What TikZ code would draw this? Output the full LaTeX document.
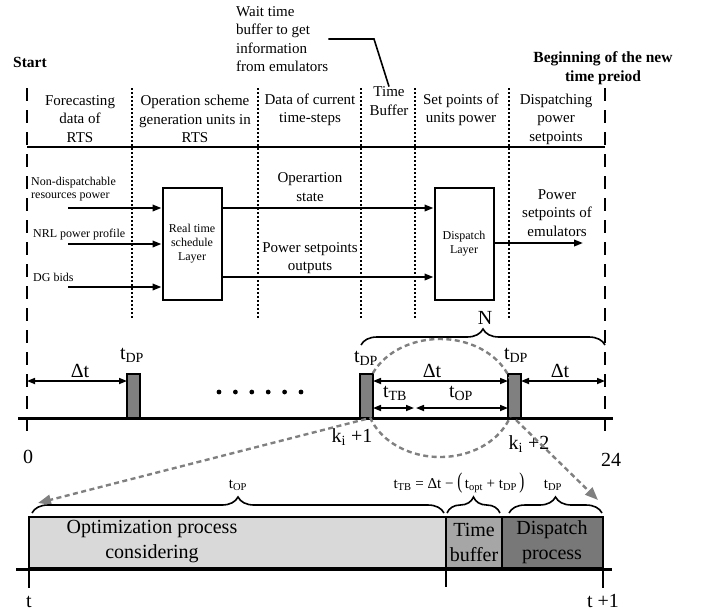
\documentclass[tikz,border=0pt]{standalone}
\usepackage{fontspec}
\setmainfont{Liberation Serif}
\usetikzlibrary{arrows.meta}
\usetikzlibrary{decorations.pathreplacing}
\usetikzlibrary{calc}

\definecolor{barfill}{RGB}{128,128,128}
\definecolor{optfill}{RGB}{217,217,217}
\definecolor{buffill}{RGB}{166,166,166}
\definecolor{dspfill}{RGB}{120,120,120}
\definecolor{guidegray}{RGB}{128,128,128}

\tikzset{
  hdr/.style={font=\fontsize{15}{18.5}\selectfont, align=center, inner sep=0pt},
  note/.style={font=\fontsize{12}{13.5}\selectfont, align=left, inner sep=0pt, anchor=west},
  boldtxt/.style={font=\fontsize{15.5}{19}\selectfont\bfseries, align=center, inner sep=0pt},
  bigtxt/.style={font=\fontsize{20}{25}\selectfont, align=center, inner sep=0pt},
  midtxt/.style={font=\fontsize{15}{18}\selectfont, inner sep=0pt, anchor=base},
  sepline/.style={line width=1.7pt, dash pattern=on 2pt off 2pt},
  edgeline/.style={line width=1.8pt, dash pattern=on 13pt off 9pt},
  flow/.style={line width=2pt, -{Triangle[length=9pt,width=6.5pt]}},
  layerbox/.style={draw, line width=2pt, minimum width=59pt, minimum height=112pt,
    font=\fontsize{12}{14}\selectfont, align=center},
  dpbar/.style={draw, line width=1.4pt, fill=barfill, minimum width=13pt,
    minimum height=44pt, inner sep=0pt, outer sep=0pt, anchor=south west},
  span/.style={line width=1.6pt, {Triangle[length=8pt,width=6pt]}-{Triangle[length=8pt,width=6pt]}},
  guide/.style={guidegray, line width=2.4pt, dash pattern=on 5pt off 3.5pt},
  brc/.style={decorate, decoration={brace, amplitude=16pt}, line width=1.6pt},
  phase/.style={draw, line width=1.8pt, inner sep=0pt, outer sep=0pt,
    minimum height=51pt, anchor=north west},
}

\begin{document}
\begin{tikzpicture}[x=1pt,y=-1pt]
\useasboundingbox (0,0) rectangle (708,614);

% titles
\node[boldtxt] (start) at (30,62) {Start};
\node[boldtxt] (newper) at (603,68) {Beginning of the new\\time preiod};
\node[hdr, align=left, anchor=west] (waitnote) at (236,39) {Wait time\\buffer to get\\information\\from emulators};
\coordinate (bend) at (374,39);

% frame of the columns
\draw[edgeline] (27,88) -- (27,432);
\draw[edgeline] (605,88) -- (605,432);
\draw[line width=2.8pt] (27,147) -- (605,147);
\foreach \x in {132,258,361,415,509}
    \draw[sepline] (\x,88) -- (\x,318);

\node[hdr] (forecast) at (80,119) {Forecasting\\data of\\RTS};
\node[hdr] (opscheme) at (195,119) {Operation scheme\\generation units in\\RTS};
\node[hdr] (curdata) at (310,110) {Data of current\\time-steps};
\node[hdr] (tbhdr) at (389,101) {Time\\Buffer};
\node[hdr] (setpts) at (461,110) {Set points of\\units power};
\node[hdr] (dsphdr) at (556,119) {Dispatching\\power\\setpoints};
\draw[line width=1.6pt] (waitnote.east) -- (bend) -- (tbhdr.north);

% layers
\node[layerbox] (rts) at (192,243.5) {Real time\\schedule\\Layer};
\node[layerbox] (dsp) at (464,243.5) {Dispatch\\Layer};

\node[note] (nondisp) at (31,189) {Non-dispatchable\\resources power};
\node[note] (nrl) at (33,235) {NRL power profile};
\node[note] (dgbid) at (33,277) {DG bids};
\coordinate (in1) at (68,208);
\coordinate (in2) at (68,244);
\coordinate (in3) at (68,287);
\draw[flow] (in1) -- (in1 -| rts.west);
\draw[flow] (in2) -- (in2 -| rts.west);
\draw[flow] (in3) -- (in3 -| rts.west);

\coordinate (out1) at (rts.east |- 0,208);
\coordinate (out2) at (rts.east |- 0,277);
\draw[flow] (out1) -- (out1 -| dsp.west);
\draw[flow] (out2) -- (out2 -| dsp.west);
\node[hdr] (opstate) at (310,187) {Operartion\\state};
\node[hdr] (pwrout) at (310,258) {Power setpoints\\outputs};

\coordinate (emu) at (583,243);
\draw[flow] (dsp.east |- emu) -- (emu);
\node[hdr] (emutxt) at (557,213) {Power\\setpoints of\\emulators};

% time line 0 ... 24
\draw[line width=3pt] (18,418) -- (613,418);
\node[dpbar] (bar1) at (127,418) {};
\node[dpbar] (bar2) at (360,418) {};
\node[dpbar] (bar3) at (508,418) {};
\foreach \i in {0,...,5}
    \fill (219+16.4*\i,392) circle (2.4pt);

\coordinate (t0) at (27,381);
\coordinate (t24) at (605,381);
\draw[span] (t0) -- (t0 -| bar1.west);
\draw[span] (t0 -| bar2.east) -- (t0 -| bar3.west);
\draw[span] (t0 -| bar3.east) -- (t24);
\coordinate (tbend) at (415,408);
\draw[span] (bar2.east |- tbend) -- ($(tbend)+(-1,0)$);
\draw[span] ($(tbend)+(1,0)$) -- (bar3.west |- tbend);

\node[bigtxt, anchor=base] (dt1) at (80,377) {Δt};
\node[bigtxt, anchor=base] (dt2) at (432,377) {Δt};
\node[bigtxt, anchor=base] (dt3) at (560,377) {Δt};
\node[bigtxt, anchor=base] (dp1) at (132,359) {t\textsubscript{DP}};
\node[bigtxt, anchor=base] (dp2) at (366,362) {t\textsubscript{DP}};
\node[bigtxt, anchor=base] (dp3) at (516,359) {t\textsubscript{DP}};
\node[bigtxt, anchor=base] (ttb) at (395,397) {t\textsubscript{TB}};
\node[bigtxt, anchor=base] (top) at (461,397) {t\textsubscript{OP}};
\node[bigtxt, anchor=base] (k1) at (352,442) {k\textsubscript{i} +1};
\node[bigtxt, anchor=base] (k2) at (529,449) {k\textsubscript{i} +2};
\node[bigtxt, anchor=base] (zero) at (28,463) {0};
\node[bigtxt, anchor=base] (full) at (611,466) {24};

\draw[brc] (361,345) -- (605,345);
\node[bigtxt, anchor=base] (nlbl) at (485,324) {N};

% zoom of one step
\draw[guide] (440,398) ellipse [x radius=74pt, y radius=59pt];
\coordinate (g1) at (366,419);
\coordinate (g1tip) at (38,503);
\coordinate (g2) at (516,420);
\coordinate (g2tip) at (598,500);
\draw[guide, -{Triangle[length=13pt,width=10pt]}] (g1) -- (g1tip);
\draw[guide, -{Triangle[length=13pt,width=10pt]}] (g2) -- (g2tip);

% process bar
\node[phase, fill=optfill, minimum width=417pt] (optbox) at (29,517) {};
\node[phase, fill=buffill, minimum width=56pt] (bufbox) at (446,517) {};
\node[phase, fill=dspfill, minimum width=101pt] (dspbox) at (502,517) {};
\node[bigtxt] (opttxt) at (152,542) {Optimization process\\considering};
\node[bigtxt] (buftxt) at (474,542) {Time\\buffer};
\node[bigtxt] (dsptxt) at (552,542) {Dispatch\\process};

\draw[line width=3pt] (16,569) -- (612,569);
\draw[line width=1.8pt] (optbox.north west) -- (29,588);
\draw[line width=1.8pt] (optbox.south east) -- (446,587);
\draw[line width=1.8pt] (dspbox.north east) -- (603,588);
\node[bigtxt, anchor=base] (tstart) at (29,607) {t};
\node[bigtxt, anchor=base] (tend) at (603,607) {t +1};

\draw[brc] (32,513) -- (444,513);
\draw[brc] (447,513) -- (500,513);
\draw[brc] (509,513) -- (602,513);
\node[midtxt] (topl) at (238,488) {t\textsubscript{OP}};
\node[midtxt] (tbl) at (459,488) {t\textsubscript{TB} = Δt − \scalebox{1}[1.5]{(}\,t\textsubscript{opt} + t\textsubscript{DP}\,\scalebox{1}[1.5]{)}};
\node[midtxt] (dpl) at (553,488) {t\textsubscript{DP}};
\end{tikzpicture}
\end{document}
